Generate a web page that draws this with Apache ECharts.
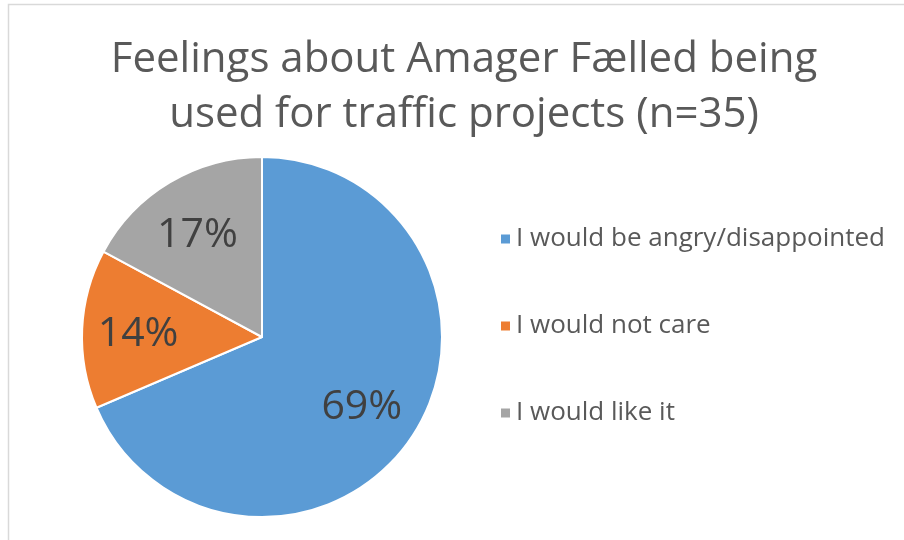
<!DOCTYPE html>
<html><head><meta charset="utf-8">
<script src="https://cdn.jsdelivr.net/npm/echarts@6/dist/echarts.min.js"></script>
<style>html,body{margin:0;padding:0;background:#fff}#c{width:904px;height:540px}</style>
</head><body><div id="c"></div>
<script>
const titleLines = ['Feelings about Amager Fælled being', 'used for traffic projects (n=35)'];
const categories = ['I would be angry/disappointed', 'I would not care', 'I would like it'];
const counts = [24, 5, 6];
const percentLabels = ['69%', '14%', '17%'];
const colors = ['#5B9BD5', '#ED7D31', '#A5A5A5'];

const FONT = 'Open Sans';
const chart = echarts.init(document.getElementById('c'), null, {renderer: 'canvas'});
const data = categories.map((c, i) => ({name: c, value: counts[i], itemStyle: {color: colors[i]}}));
const labelData = categories.map((c, i) => ({name: c, value: counts[i], label: {formatter: percentLabels[i]}}));
chart.setOption({
  animation: false,
  graphic: [{type: 'rect', shape: {x: 8.5, y: 4.5, width: 1000, height: 1000}, style: {fill: 'none', stroke: '#d9d9d9', lineWidth: 1.5}, silent: true}],
  title: {
    text: titleLines.join('\n'), left: 459, top: 28, textAlign: 'center',
    textStyle: {fontFamily: FONT, fontSize: 42, fontWeight: 'normal', color: '#595959', lineHeight: 55}
  },
  legend: {
    orient: 'vertical', left: 494, top: 221, itemGap: 61, itemWidth: 11, itemHeight: 11, icon: 'rect',
    data: categories,
    textStyle: {fontFamily: FONT, fontSize: 26, color: '#595959', lineHeight: 26, padding: [0, 0, 0, 0]}
  },
  series: [{
    type: 'pie', center: [262, 337], radius: [0, 180], startAngle: 90, clockwise: true,
    data: data, label: {show: false}, labelLine: {show: false},
    itemStyle: {borderColor: '#fff', borderWidth: 2}, silent: true
  }, {
    type: 'pie', center: [260, 340], radius: [58, 180], startAngle: 90, clockwise: true,
    data: labelData, legendHoverLink: false, silent: true,
    itemStyle: {color: 'rgba(0,0,0,0)', borderWidth: 0},
    label: {show: true, position: 'inside', fontFamily: FONT, fontSize: 41, color: '#404040'},
    labelLine: {show: false}
  }]
});
</script></body></html>
